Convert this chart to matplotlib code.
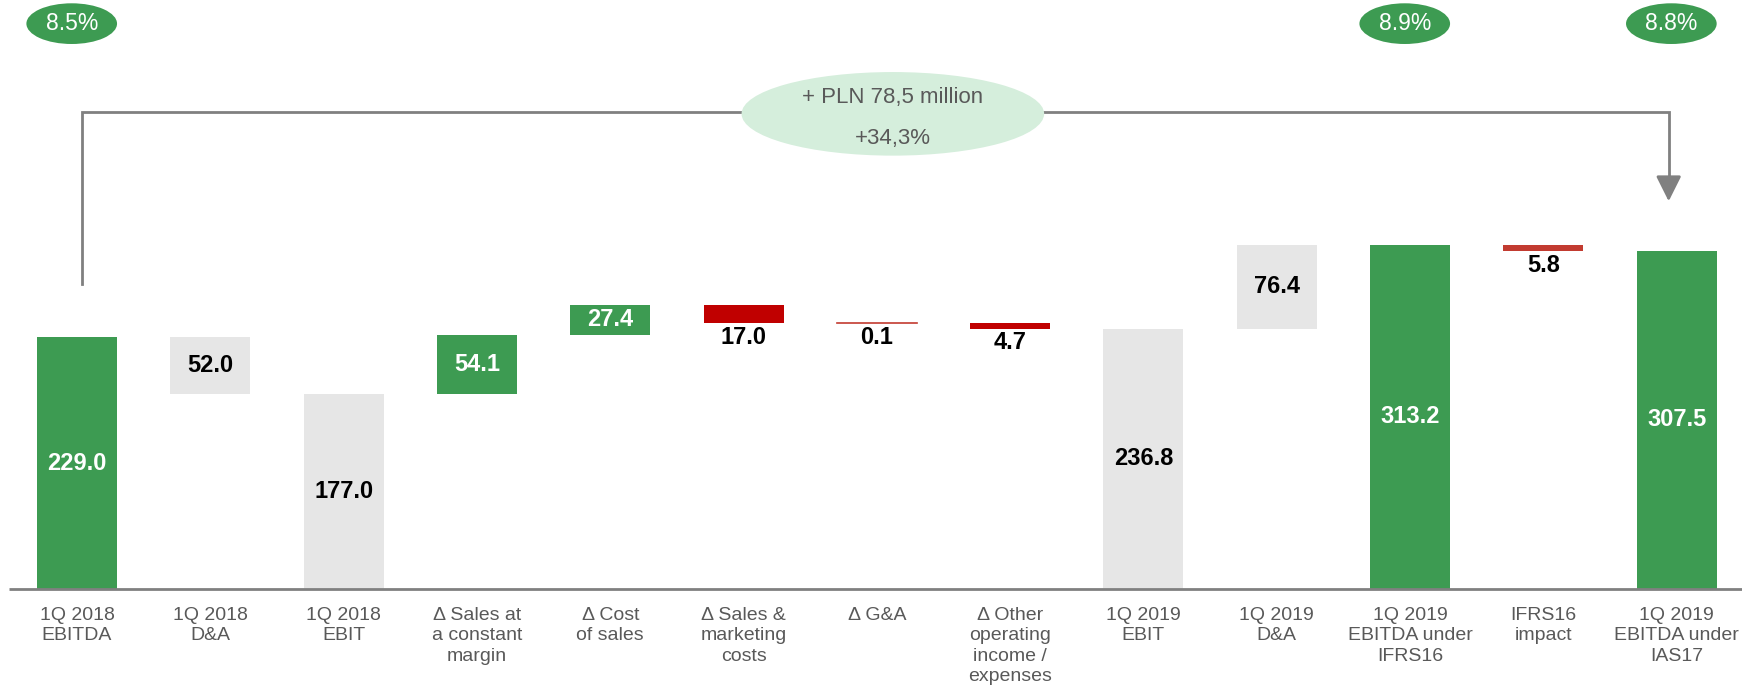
import matplotlib.pyplot as plt
from matplotlib.patches import Ellipse

categories = ["1Q 2018\nEBITDA", "1Q 2018\nD&A", "1Q 2018\nEBIT", "Δ Sales at\na constant\nmargin",
              "Δ Cost\nof sales", "Δ Sales &\nmarketing\ncosts", "Δ G&A", "Δ Other\noperating\nincome /\nexpenses",
              "1Q 2019\nEBIT", "1Q 2019\nD&A", "1Q 2019\nEBITDA under\nIFRS16", "IFRS16\nimpact",
              "1Q 2019\nEBITDA under\nIAS17"]
values = [229.0, -52.0, 177.0, 54.1, 27.4, -17.0, -0.1, -4.7, 236.8, 76.4, 313.2, -5.8, 307.5]
kinds = ["total", "da", "total_grey", "up", "up", "down", "down_light", "down", "total_grey", "da", "total", "down_light", "total"]
margin_labels = ["8.5%", "8.9%", "8.8%"]
margin_at = [0, 10, 12]
growth_text = ["+ PLN 78,5 million", "+34,3%"]

GREEN = "#3D9B52"
GREY = "#E6E6E6"
RED = "#C00000"
RED_LIGHT = "#C23B30"
TXT = "#595959"
LINE = "#808080"

colors = {"total": GREEN, "da": GREY, "total_grey": GREY, "up": GREEN, "down": RED, "down_light": RED_LIGHT}

fig = plt.figure(figsize=(17.42, 6.87), dpi=100)
ax = fig.add_axes([0, 0, 1, 1])
ax.set_xlim(-0.578, 12.49)
ax.set_ylim(-89.1, 535.5)
ax.axis("off")

level = 0
for i, (val, kind) in enumerate(zip(values, kinds)):
    if kind.startswith("total"):
        bottom, height = 0, val
        level = val
    else:
        bottom = level if val > 0 else level + val
        height = abs(val)
        level = level + val
    if kind == "down_light" and height < 0.5:
        # tiny change, draw as thin line
        ax.plot([i - 0.3, i + 0.3], [bottom + height, bottom + height], color=RED_LIGHT, lw=1.2)
    else:
        ax.bar(i, height, bottom=bottom, width=0.6, color=colors[kind], linewidth=0)
    label = f"{abs(val):.1f}"
    if kind in ("down", "down_light"):
        ax.text(i, bottom - 2.5, label, ha="center", va="top", fontsize=17, fontweight="bold",
                family="Liberation Sans", color="black")
    else:
        col = "white" if colors[kind] == GREEN else "black"
        ax.text(i, bottom + height / 2, label, ha="center", va="center", fontsize=17, fontweight="bold",
                family="Liberation Sans", color=col)

# base line
ax.plot([-0.51, 12.49], [0, 0], color=LINE, lw=2, solid_capstyle="butt")

for i, cat in enumerate(categories):
    ax.text(i, -16, cat, ha="center", va="top", fontsize=14, color=TXT, linespacing=1.27,
            family="Liberation Sans")

# margin ellipses
for lab, i in zip(margin_labels, margin_at):
    ax.add_patch(Ellipse((i - 0.04, 514), 0.68, 37, color=GREEN, lw=0))
    ax.text(i - 0.04, 514, lab, ha="center", va="center", fontsize=16.5, color="white",
            family="Liberation Sans")

# bracket with arrow
ax.plot([0.04, 0.04, 11.94, 11.94], [277, 434, 434, 372], color=LINE, lw=2, solid_joinstyle="miter")
ax.annotate("", xy=(11.94, 350), xytext=(11.94, 375),
            arrowprops=dict(arrowstyle="-|>,head_length=0.7,head_width=0.35", color=LINE, lw=2,
                            mutation_scale=22))

ax.add_patch(Ellipse((6.12, 432), 2.27, 76, color="#D5EEDC", lw=0, zorder=3))
ax.text(6.12, 447, growth_text[0], ha="center", va="center", fontsize=16, color=TXT,
        family="Liberation Sans", zorder=4)
ax.text(6.12, 410, growth_text[1], ha="center", va="center", fontsize=16, color=TXT,
        family="Liberation Sans", zorder=4)

plt.savefig("out.png", dpi=100)
